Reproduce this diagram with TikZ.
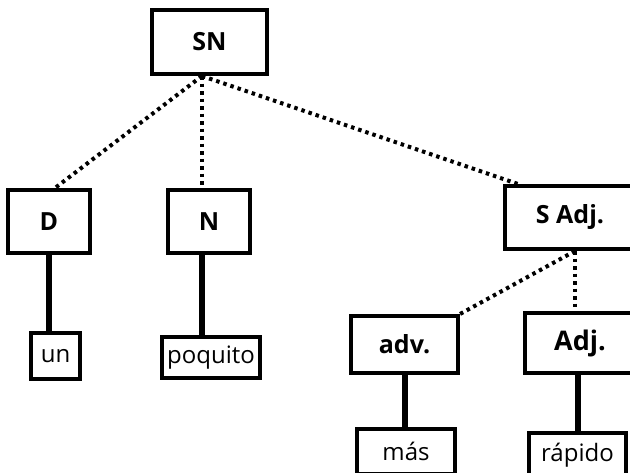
\documentclass[tikz,border=0pt]{standalone}
\usepackage{fontspec}
\setmainfont{Open Sans}
\usetikzlibrary{positioning}

\begin{document}
\begin{tikzpicture}[x=1pt, y=-1pt,
    catbox/.style={draw, line width=4pt, inner sep=0pt,
      font=\bfseries\fontsize{25}{29}\selectfont},
    wordbox/.style={draw, line width=3.5pt, inner sep=0pt,
      font=\fontsize{24}{28}\selectfont},
    dotlink/.style={line width=4pt, dash pattern=on 3.5pt off 4pt},
    solidlink/.style={line width=6pt}]
    \useasboundingbox (0,0) rectangle (630,472);

    % Categories
    \node[catbox, minimum width=115pt, minimum height=64pt] (SN) at (209.5,42) {SN};
    \node[catbox, minimum width=82pt, minimum height=63pt] (D) at (49,221.5) {D};
    \node[catbox, minimum width=82pt, minimum height=63pt] (N) at (209,221.5) {N};
    \node[catbox, minimum width=130pt, minimum height=63pt] (SAdj) at (570,217.5) {S Adj.};
    \node[catbox, minimum width=107pt, minimum height=57pt] (adv) at (404.5,344.5) {adv.};
    \node[catbox, minimum width=110pt, minimum height=60pt,
      font=\bfseries\fontsize{27}{31}\selectfont] (Adj) at (580,343) {Adj.};

    % Words
    \node[wordbox, minimum width=49pt, minimum height=46pt] (un) at (55.5,356) {un};
    \node[wordbox, minimum width=98pt, minimum height=41pt] (poquito) at (211,357.5) {poquito};
    \node[wordbox, minimum width=98pt, minimum height=45pt] (mas) at (406,451.5) {más};
    \node[wordbox, minimum width=97pt, minimum height=45pt] (rapido) at (577.5,455.5) {rápido};

    % Dotted branches
    \coordinate (snfoot) at ([xshift=-7.5pt]SN.south);
    \coordinate (sadjfoot) at ([xshift=5pt]SAdj.south);
    \draw[dotlink] (snfoot) -- ([xshift=6pt]D.north);
    \draw[dotlink] (snfoot) -- (snfoot |- N.north);
    \draw[dotlink] (snfoot) -- ([xshift=15pt]SAdj.north west);
    \draw[dotlink] (sadjfoot) -- (adv.north east);
    \draw[dotlink] (sadjfoot) -- (sadjfoot |- Adj.north);

    % Solid branches
    \draw[solidlink] (D.south) -- (D.south |- un.north);
    \draw[solidlink] (snfoot |- N.south) -- (snfoot |- poquito.north);
    \draw[solidlink] (adv.south) -- (adv.south |- mas.north);
    \draw[solidlink] (rapido.north |- Adj.south) -- (rapido.north);
\end{tikzpicture}
\end{document}
